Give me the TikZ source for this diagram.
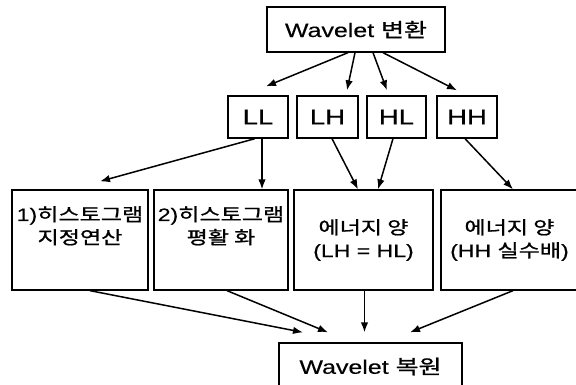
\documentclass[tikz,border=0pt]{standalone}
\usepackage{fontspec}
\usepackage{graphicx}
\setmainfont{Liberation Sans}[FakeBold=0.3]
\newfontfamily\kr{Noto Sans CJK KR}[FakeBold=0.9]
\usetikzlibrary{arrows.meta,calc}
\newcommand{\sx}[1]{\scalebox{1.28}[1]{#1}}
\newcommand{\ko}[1]{{\kr #1}}
\tikzset{
  box/.style={draw, line width=1.3pt, inner sep=0pt, align=center},
  arr/.style={line width=1.5pt, -{Latex[length=10pt,width=7.5pt]}},
  big/.style={font=\fontsize{19.5}{22}\selectfont},
  mid/.style={font=\fontsize{18}{23}\selectfont},
  sub/.style={font=\fontsize{21.5}{24}\selectfont},
}
\begin{document}
\begin{tikzpicture}[x=1pt,y=-1pt]
\useasboundingbox (0,0) rectangle (576,385);
\clip (0,0) rectangle (576,385);
\fill[white] (0,0) rectangle (576,385);

\node[box, big, minimum width=178pt, minimum height=45pt] (top) at (356,29.5) {\sx{Wavelet \ko{변환}}};

\node[box, sub, minimum width=60pt, minimum height=42pt] (ll) at (258,117) {\sx{LL}};
\node[box, sub, minimum width=61pt, minimum height=42pt] (lh) at (327.5,117) {\sx{LH}};
\node[box, sub, minimum width=59pt, minimum height=42pt] (hl) at (396.5,117) {\sx{HL}};
\node[box, sub, minimum width=60pt, minimum height=42pt] (hh) at (467,117) {\sx{HH}};

\node[box, mid, minimum width=136pt, minimum height=100pt] (b1) at (80,240) {\sx{1)\ko{히스토그램}}\\\sx{\ko{지정연산}}\\\strut};
\node[box, mid, minimum width=134pt, minimum height=100pt] (b2) at (221,240) {\sx{2)\ko{히스토그램}}\\\sx{\ko{평활 화}}\\\strut};
\node[box, mid, minimum width=139pt, minimum height=100pt] (b3) at (363.5,240) {\sx{\ko{에너지 양}}\\\sx{(LH = HL)}};
\node[box, mid, minimum width=137pt, minimum height=100pt] (b4) at (509.5,240) {\sx{\ko{에너지 양}}\\\sx{(HH \ko{실수배})}};

\node[box, big, minimum width=183pt, minimum height=47pt] (bot) at (370.5,366.5) {\sx{Wavelet \ko{복원}}};

\draw[arr] ($(top.south)+(-8,0)$) -- ($(ll.north)+(8,-9)$);
\draw[arr] ($(top.south)+(-1,0)$) -- ($(lh.north)+(19.5,-5)$);
\draw[arr] ($(top.south)+(17,0)$) -- ($(hl.north)+(-9.5,-5)$);
\draw[arr] ($(top.south)+(27,0)$) -- ($(hh.north)+(-10,-5)$);

\draw[arr] ($(ll.south)+(-3,0)$) -- ($(b1.north)+(20,-8)$);
\draw[arr] ($(ll.south)+(4,0)$) -- ($(b2.north)+(41,0)$);
\draw[arr] ($(lh.south)+(4.5,0)$) -- ($(b3.north)+(-5.5,0)$);
\draw[arr] ($(hl.south)+(-3.5,0)$) -- ($(b3.north)+(14.5,0)$);
\draw[arr] ($(hh.south)+(-2,0)$) -- ($(b4.north)+(3.5,0)$);

\draw[arr] ($(b1.south)+(10,0)$) -- ($(bot.north)+(-67.5,-10)$);
\draw[arr] ($(b2.south)+(6,0)$) -- ($(bot.north)+(-42.5,-10)$);
\draw[arr] ($(b3.south)+(1,0)$) -- ($(bot.north)+(-6,-10)$);
\draw[arr] ($(b4.south)+(3.5,0)$) -- ($(bot.north)+(39.5,-10)$);
\end{tikzpicture}
\end{document}
